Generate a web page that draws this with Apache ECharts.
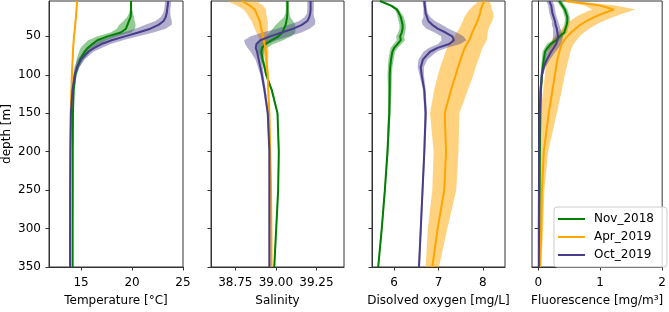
<!DOCTYPE html>
<html>
<head>
<meta charset="utf-8">
<script src="https://cdn.jsdelivr.net/npm/echarts@6/dist/echarts.min.js"></script>
<style>
  html, body { margin: 0; padding: 0; background: #fff; }
  #chart { width: 669px; height: 312px; }
</style>
</head>
<body>
<div id="chart"></div>
<script>
// depth levels [m]
const depths = [4, 10, 15, 20, 25, 30, 35, 40, 45, 50, 55, 60, 65, 70, 80, 90, 100, 120, 150, 200, 250, 300, 350]

// temperature [°C] mean and spread
const tempNov = [19.9, 19.9, 19.9, 19.9, 19.85, 19.7, 19.55, 19.4, 18.9, 17.6, 16.6, 16.1, 15.65, 15.35, 14.9, 14.64, 14.43, 14.27, 14.2, 14.18, 14.18, 14.17, 14.17]
const tempNovSd = [0.1, 0.1, 0.1, 0.2, 0.35, 0.55, 0.8, 0.9, 1.0, 1.0, 0.9, 0.8, 0.7, 0.55, 0.35, 0.2, 0.15, 0.08, 0.05, 0.03, 0.03, 0.03, 0.03]
const tempApr = [14.6, 14.58, 14.55, 14.52, 14.5, 14.45, 14.42, 14.4, 14.35, 14.3, 14.28, 14.25, 14.22, 14.2, 14.17, 14.13, 14.1, 14.05, 13.98, 13.95, 13.94, 13.93, 13.93]
const tempAprSd = [0.05, 0.05, 0.05, 0.05, 0.05, 0.05, 0.05, 0.05, 0.05, 0.05, 0.05, 0.05, 0.05, 0.05, 0.05, 0.05, 0.05, 0.05, 0.05, 0.05, 0.05, 0.05, 0.05]
const tempOct = [23.55, 23.5, 23.45, 23.4, 23.3, 23.1, 22.6, 21.8, 20.6, 19.3, 18.0, 17.0, 16.3, 15.7, 15.0, 14.6, 14.38, 14.15, 14.0, 13.95, 13.93, 13.92, 13.92]
const tempOctSd = [0.3, 0.3, 0.3, 0.35, 0.5, 0.8, 1.3, 1.5, 1.5, 1.3, 1.1, 0.9, 0.7, 0.5, 0.35, 0.25, 0.15, 0.1, 0.08, 0.06, 0.06, 0.06, 0.06]

// salinity
const salNov = [39.071, 39.071, 39.071, 39.071, 39.069, 39.065, 39.06, 39.05, 39.04, 39.016, 38.975, 38.935, 38.914, 38.91, 38.918, 38.93, 38.94, 38.975, 39.01, 39.018, 39.014, 39.002, 38.99]
const salNovSd = [0.01, 0.01, 0.01, 0.012, 0.02, 0.04, 0.06, 0.07, 0.08, 0.08, 0.07, 0.05, 0.03, 0.02, 0.01, 0.008, 0.006, 0.005, 0.004, 0.004, 0.004, 0.004, 0.004]
const salApr = [38.79, 38.84, 38.87, 38.88, 38.89, 38.9, 38.905, 38.91, 38.915, 38.92, 38.925, 38.93, 38.935, 38.94, 38.942, 38.945, 38.95, 38.953, 38.96, 38.965, 38.97, 38.972, 38.973]
const salAprSd = [0.09, 0.08, 0.07, 0.06, 0.055, 0.05, 0.045, 0.04, 0.035, 0.03, 0.025, 0.02, 0.017, 0.015, 0.01, 0.008, 0.006, 0.005, 0.004, 0.004, 0.004, 0.004, 0.004]
const salOct = [39.214, 39.214, 39.214, 39.212, 39.206, 39.194, 39.16, 39.108, 39.037, 38.965, 38.904, 38.88, 38.876, 38.884, 38.894, 38.904, 38.914, 38.93, 38.95, 38.96, 38.96, 38.96, 38.96]
const salOctSd = [0.02, 0.02, 0.02, 0.02, 0.03, 0.05, 0.08, 0.1, 0.12, 0.12, 0.1, 0.07, 0.05, 0.04, 0.02, 0.015, 0.01, 0.008, 0.006, 0.005, 0.005, 0.005, 0.005]

// dissolved oxygen [mg/L]
const oxyNov = [5.68, 5.93, 6.06, 6.11, 6.15, 6.17, 6.19, 6.19, 6.17, 6.135, 6.15, 6.075, 6.0, 5.96, 5.93, 5.91, 5.9, 5.9, 5.89, 5.85, 5.79, 5.72, 5.64]
const oxyNovSd = [0.03, 0.05, 0.05, 0.05, 0.07, 0.07, 0.07, 0.07, 0.08, 0.09, 0.09, 0.09, 0.08, 0.06, 0.06, 0.05, 0.05, 0.04, 0.03, 0.02, 0.015, 0.015, 0.015]
const oxyApr = [8.03, 7.99, 7.95, 7.94, 7.91, 7.88, 7.84, 7.8, 7.76, 7.73, 7.69, 7.64, 7.59, 7.56, 7.5, 7.44, 7.39, 7.28, 7.14, 7.17, 7.13, 6.98, 6.86]
const oxyAprSd = [0.12, 0.2, 0.25, 0.3, 0.33, 0.33, 0.33, 0.33, 0.35, 0.37, 0.4, 0.4, 0.4, 0.4, 0.4, 0.4, 0.4, 0.38, 0.33, 0.28, 0.27, 0.22, 0.15]
const oxyOct = [6.68, 6.69, 6.7, 6.71, 6.74, 6.77, 6.86, 6.98, 7.16, 7.31, 7.35, 7.24, 6.98, 6.81, 6.65, 6.6, 6.62, 6.68, 6.71, 6.68, 6.64, 6.6, 6.56]
const oxyOctSd = [0.04, 0.04, 0.04, 0.05, 0.08, 0.15, 0.22, 0.25, 0.25, 0.25, 0.28, 0.25, 0.2, 0.15, 0.1, 0.07, 0.05, 0.03, 0.03, 0.02, 0.02, 0.02, 0.02]

// fluorescence [mg/m3]
const fluoNov = [0.34, 0.39, 0.43, 0.45, 0.47, 0.47, 0.46, 0.44, 0.42, 0.35, 0.29, 0.2, 0.15, 0.11, 0.09, 0.075, 0.06, 0.045, 0.035, 0.026, 0.022, 0.02, 0.02]
const fluoNovSd = [0.04, 0.04, 0.04, 0.04, 0.04, 0.04, 0.04, 0.04, 0.05, 0.06, 0.06, 0.06, 0.05, 0.04, 0.03, 0.03, 0.02, 0.015, 0.015, 0.015, 0.015, 0.015, 0.015]
const fluoApr = [0.45, 1.0, 1.22, 1.05, 0.9, 0.78, 0.68, 0.6, 0.53, 0.47, 0.42, 0.38, 0.36, 0.34, 0.31, 0.29, 0.27, 0.23, 0.17, 0.09, 0.06, 0.05, 0.03]
const fluoAprSd = [0.1, 0.25, 0.35, 0.33, 0.3, 0.27, 0.25, 0.22, 0.21, 0.2, 0.2, 0.19, 0.18, 0.18, 0.18, 0.17, 0.16, 0.15, 0.13, 0.07, 0.04, 0.03, 0.02]
const fluoOct = [0.18, 0.21, 0.22, 0.23, 0.25, 0.27, 0.28, 0.3, 0.31, 0.32, 0.31, 0.29, 0.25, 0.21, 0.14, 0.09, 0.06, 0.036, 0.026, 0.016, 0.012, 0.01, 0.01]
const fluoOctSd = [0.05, 0.05, 0.05, 0.05, 0.05, 0.05, 0.06, 0.06, 0.07, 0.08, 0.08, 0.08, 0.08, 0.07, 0.05, 0.03, 0.02, 0.015, 0.015, 0.015, 0.015, 0.015, 0.015]

const depthTicks = [50, 100, 150, 200, 250, 300, 350]
const tempTicks = [15, 20, 25]
const salTicks = [38.75, 39.0, 39.25]
const oxyTicks = [6, 7, 8]
const fluoTicks = [0, 1, 2]

const campaigns = ['Nov_2018', 'Apr_2019', 'Oct_2019']
const colors = ['#008000', '#ffa500', '#483d8b']
const bandColors = ['rgba(0,128,0,0.42)', 'rgba(255,165,0,0.5)', 'rgba(72,61,139,0.42)']

const panels = [
  {name: 'Temperature [°C]', min: 11.85, max: 25, ticks: tempTicks, dec: 0,
    data: [[tempNov, tempNovSd], [tempApr, tempAprSd], [tempOct, tempOctSd]]},
  {name: 'Salinity', min: 38.6, max: 39.42, ticks: salTicks, dec: 2,
    data: [[salNov, salNovSd], [salApr, salAprSd], [salOct, salOctSd]]},
  {name: 'Disolved oxygen [mg/L]', min: 5.5, max: 8.5, ticks: oxyTicks, dec: 0,
    data: [[oxyNov, oxyNovSd], [oxyApr, oxyAprSd], [oxyOct, oxyOctSd]]},
  {name: 'Fluorescence [mg/m³]', min: -0.1, max: 2, ticks: fluoTicks, dec: 0,
    data: [[fluoNov, fluoNovSd], [fluoApr, fluoAprSd], [fluoOct, fluoOctSd]]}
]

const font = 'DejaVu Sans'
const lefts = [49, 211, 372, 532]
const widths = [134, 133, 133, 134]

// band drawn as one polygon through the axis scales
function bandRenderer(mean, sd, color) {
  return function (params, api) {
    if (params.dataIndex !== 0) return
    let pts = []
    for (let i = 0; i < depths.length; i++) pts.push(api.coord([mean[i] - sd[i], depths[i]]))
    for (let i = depths.length - 1; i >= 0; i--) pts.push(api.coord([mean[i] + sd[i], depths[i]]))
    return {type: 'polygon', shape: {points: pts}, style: {fill: color}}
  }
}

let grids = [], xAxes = [], yAxes = [], series = []
panels.forEach((p, k) => {
  grids.push({left: lefts[k], width: widths[k], top: 1, height: 272, show: true,
    borderColor: '#333', borderWidth: 1})
  xAxes.push({
    type: 'value', gridIndex: k, min: p.min, max: p.max,
    name: p.name, nameLocation: 'middle', nameGap: 28,
    nameTextStyle: {fontFamily: font, fontSize: 12, color: '#000'},
    axisLine: {show: true, lineStyle: {color: '#333'}},
    axisTick: {show: true, length: 3.5, lineStyle: {color: '#333'}, customValues: p.ticks},
    axisLabel: {fontFamily: font, fontSize: 12, color: '#000', margin: 10, customValues: p.ticks,
      formatter: v => v.toFixed(p.dec)},
    splitLine: {show: false}
  })
  yAxes.push({
    type: 'value', gridIndex: k, inverse: true, min: 4, max: 350,
    name: k === 0 ? 'depth [m]' : '', nameLocation: 'middle', nameGap: 36,
    nameTextStyle: {fontFamily: font, fontSize: 12, color: '#000'},
    axisLine: {show: true, lineStyle: {color: '#333'}},
    axisTick: {show: true, length: 3.5, lineStyle: {color: '#333'}, customValues: depthTicks},
    axisLabel: {show: k === 0, fontFamily: font, fontSize: 12, color: '#000', margin: 8,
      customValues: depthTicks},
    splitLine: {show: false}
  })
  p.data.forEach((d, j) => {
    let mean = d[0], sd = d[1]
    series.push({
      type: 'custom', name: 'band' + k + j, xAxisIndex: k, yAxisIndex: k, z: 1, silent: true,
      renderItem: bandRenderer(mean, sd, bandColors[j]),
      encode: {x: [0, 1], y: 2},
      data: depths.map((dep, i) => [mean[i] - sd[i], mean[i] + sd[i], dep])
    })
  })
  p.data.forEach((d, j) => {
    let mean = d[0]
    series.push({
      type: 'line', name: campaigns[j], xAxisIndex: k, yAxisIndex: k, z: 3,
      symbol: 'none', smooth: false,
      lineStyle: {width: 2, color: colors[j]}, itemStyle: {color: colors[j]},
      data: depths.map((dep, i) => [mean[i], dep])
    })
  })
})

let chart = echarts.init(document.getElementById('chart'))
chart.setOption({
  animation: false,
  grid: grids,
  xAxis: xAxes,
  yAxis: yAxes,
  legend: {
    data: campaigns, orient: 'vertical', left: 554, top: 207,
    icon: 'rect', itemWidth: 27, itemHeight: 2, itemGap: 6, padding: [6, 13, 6, 4],
    backgroundColor: 'rgba(255,255,255,0.8)', borderColor: '#ccc', borderWidth: 1, borderRadius: 3,
    textStyle: {fontFamily: font, fontSize: 12, color: '#000', padding: [0, 0, 0, 4]}
  },
  series: series
})
</script>
</body>
</html>
